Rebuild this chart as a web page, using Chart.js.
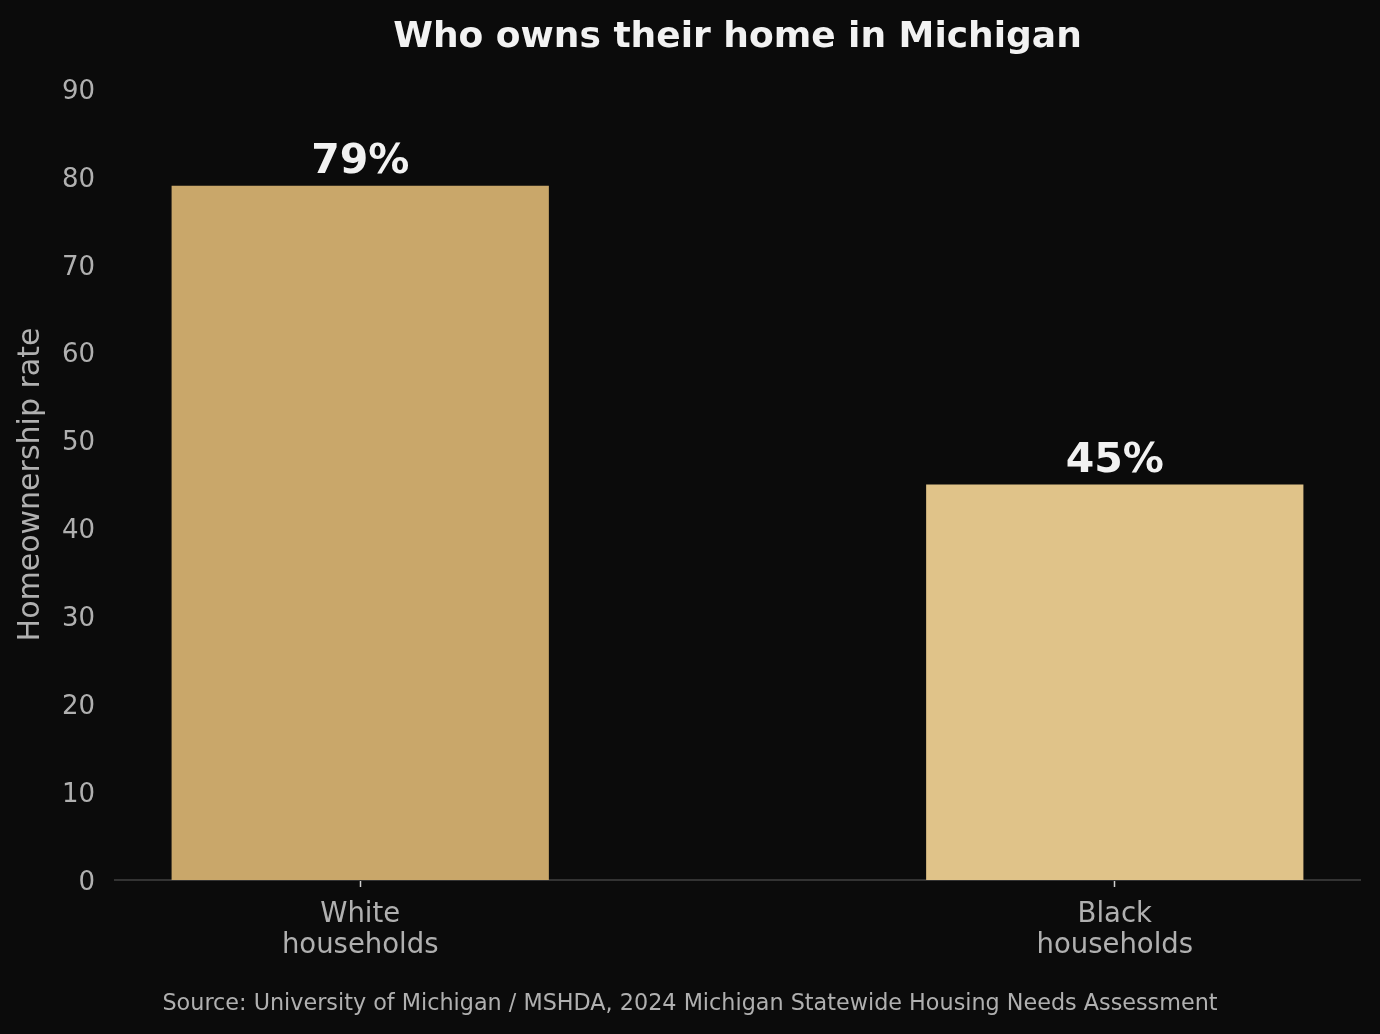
<!DOCTYPE html>
<html>
<head>
<meta charset="utf-8">
<title>Who owns their home in Michigan</title>
<script src="https://cdn.jsdelivr.net/npm/chart.js@4.4.1/dist/chart.umd.min.js"></script>
<style>
  html, body { margin: 0; padding: 0; background: #0b0b0b; }
  #wrap { width: 1380px; height: 1034px; }
</style>
</head>
<body>
<div id="wrap"><canvas id="barChart" width="1380" height="1034"></canvas></div>
<script>
// Data
const categories = [['White', 'households'], ['Black', 'households']];
const positions = [0, 1];
const rates = [79, 45];
const barColors = ['#c9a76a', '#e0c389'];
const yTicks = [0, 10, 20, 30, 40, 50, 60, 70, 80, 90];

const FONT = "'DejaVu Sans', Verdana, sans-serif";
const GREY = '#b0b0b0';

// title, source and value labels
const textPlugin = {
    id: 'textPlugin',
    afterDatasetsDraw(chart) {
        const ctx = chart.ctx;
        const meta = chart.getDatasetMeta(0);
        ctx.save();
        ctx.textAlign = 'center';
        ctx.textBaseline = 'alphabetic';
        ctx.fillStyle = '#f2f2f2';
        ctx.font = 'bold 41px ' + FONT;
        meta.data.forEach((bar, i) => {
            ctx.fillText(rates[i] + '%', bar.x, bar.y - 13);
        });

        ctx.textBaseline = 'middle';
        ctx.font = 'bold 36px ' + FONT;
        ctx.fillText('Who owns their home in Michigan', (chart.chartArea.left + chart.chartArea.right) / 2, 38);

        ctx.fillStyle = GREY;
        ctx.font = '22.3px ' + FONT;
        ctx.fillText('Source: University of Michigan / MSHDA, 2024 Michigan Statewide Housing Needs Assessment', 690, 1004);
        ctx.restore();
    }
};

const barChart = new Chart(document.getElementById('barChart'), {
    type: 'bar',
    data: {
        datasets: [{
            data: positions.map((p, i) => ({ x: p, y: rates[i] })),
            backgroundColor: barColors,
            borderWidth: 0,
            barPercentage: 0.5,
            categoryPercentage: 1.0
        }]
    },
    options: {
        responsive: false,
        animation: false,
        layout: { padding: { top: 89, right: 20, left: 0, bottom: 0 } },
        plugins: {
            legend: { display: false },
            tooltip: { enabled: false }
        },
        scales: {
            x: {
                type: 'linear',
                min: -0.325,
                max: 1.325,
                offset: false,
                afterBuildTicks: (scale) => { scale.ticks = positions.map(v => ({ value: v })); },
                afterFit: (scale) => { scale.height = 154; },
                grid: {
                    display: true,
                    offset: false,
                    drawOnChartArea: false,
                    drawTicks: true,
                    tickLength: 7,
                    tickWidth: 1.5,
                    tickColor: '#d0d0d0'
                },
                border: { display: true, color: '#333333', width: 2 },
                ticks: {
                    color: GREY,
                    font: { family: FONT, size: 27.5, lineHeight: 1.13 },
                    padding: 12,
                    maxRotation: 0,
                    autoSkip: false,
                    callback: (value, index) => categories[index]
                }
            },
            y: {
                min: 0,
                max: 90,
                afterBuildTicks: (scale) => { scale.ticks = yTicks.map(v => ({ value: v })); },
                afterFit: (scale) => { scale.width = 115; },
                grid: { display: false, drawTicks: false },
                border: { display: false },
                ticks: {
                    color: GREY,
                    font: { family: FONT, size: 26 },
                    padding: 20,
                    labelOffset: 3
                },
                title: {
                    display: true,
                    text: 'Homeownership rate',
                    color: GREY,
                    font: { family: FONT, size: 30 },
                    padding: { top: 13, bottom: 0 }
                }
            }
        }
    },
    plugins: [textPlugin]
});
</script>
</body>
</html>
